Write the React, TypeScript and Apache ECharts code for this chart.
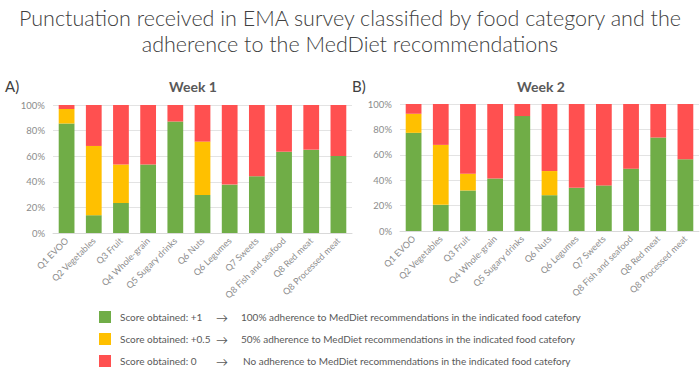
import React, { useEffect, useRef } from "react";
import * as echarts from "echarts";

const categories = [
  "Q1 EVOO", "Q2 Vegetables", "Q3 Fruit", "Q4 Whole-grain", "Q5 Sugary drinks",
  "Q6 Nuts", "Q6 Legumes", "Q7 Sweets", "Q8 Fish and seafood", "Q8 Red meat", "Q8 Processed meat",
];
const week1Full = [85.6, 13.9, 23.4, 53.5, 87.1, 29.7, 37.8, 44.4, 63.5, 65.1, 60.1];
const week1Half = [11.3, 54.1, 30.1, 0, 0, 41.7, 0, 0, 0, 0, 0];
const week1None = [3.1, 32.0, 46.5, 46.5, 12.9, 28.6, 62.2, 55.6, 36.5, 34.9, 39.9];
const week2Full = [77.3, 20.6, 31.9, 41.4, 90.5, 28.2, 34.0, 35.9, 49.1, 73.6, 56.5];
const week2Half = [15.0, 47.2, 13.2, 0, 0, 19.0, 0, 0, 0, 0, 0];
const week2None = [7.7, 32.2, 54.9, 58.6, 9.5, 52.8, 66.0, 64.1, 50.9, 26.4, 43.5];
const yTicks = ["0%", "20%", "40%", "60%", "80%", "100%"];
const seriesNames = ["Score obtained: +1", "Score obtained: +0.5", "Score obtained: 0"];
const legendDescriptions = [
  "100% adherence to MedDiet recommendations in the indicated food catefory",
  "50% adherence to MedDiet recommendations in the indicated food catefory",
  "No adherence to MedDiet recommendations in the indicated food catefory",
];
const colors = ["#70AD47", "#FFC000", "#FF5050"];
const mainTitle = "Punctuation received in EMA survey classified by food category and the\nadherence to the MedDiet recommendations";

export default function App() {
  const ref = useRef<HTMLDivElement>(null);
  useEffect(() => {
    if (!ref.current) return;
    const chart = echarts.init(ref.current, null, { renderer: "svg" });
    const font = "Lato, 'Open Sans', sans-serif";
    const xAxisCommon = (gi: number) => ({
      type: "category" as const,
      gridIndex: gi,
      data: categories,
      axisTick: { show: false },
      axisLine: { lineStyle: { color: "#D9D9D9" } },
      axisLabel: { rotate: 45, fontSize: 9, color: "#8C8C8C", fontFamily: font, margin: 6, interval: 0 },
    });
    const yAxisCommon = (gi: number) => ({
      type: "value" as const,
      gridIndex: gi,
      min: 0,
      max: 100,
      interval: 20,
      axisLine: { show: false },
      axisTick: { show: false },
      splitLine: { lineStyle: { color: "#E3E3E3" } },
      axisLabel: {
        fontSize: 9.5,
        color: "#8C8C8C",
        fontFamily: font,
        margin: 8,
        formatter: (v: number) => yTicks[Math.round(v / 20)],
      },
    });
    const mk = (gi: number, data: number[][]) =>
      data.map((d, i) => ({
        name: seriesNames[i],
        type: "bar" as const,
        stack: "w" + gi,
        xAxisIndex: gi,
        yAxisIndex: gi,
        data: d,
        barCategoryGap: "42%",
        itemStyle: { color: colors[i] },
      }));
    const legendItems: any[] = [];
    seriesNames.forEach((n, i) => {
      const y = 311 + i * 22;
      legendItems.push({ type: "rect", shape: { x: 99, y, width: 12, height: 12 }, style: { fill: colors[i] } });
      legendItems.push({ type: "text", x: 120, y: y + 6, style: { text: n, fontSize: 10, fill: "#595959", fontFamily: font, verticalAlign: "middle" } });
      legendItems.push({ type: "text", x: 216, y: y + 6, style: { text: "→", fontSize: 12, fill: "#595959", fontFamily: font, verticalAlign: "middle" } });
      legendItems.push({ type: "text", x: i === 2 ? 243 : 241, y: y + 6, style: { text: legendDescriptions[i], fontSize: 10, fill: "#595959", fontFamily: font, verticalAlign: "middle" } });
    });
    chart.setOption({
      animation: false,
      title: [
        { text: mainTitle, left: "center", top: 0, textStyle: { fontSize: 21.5, fontWeight: 300, color: "#404040", fontFamily: font, lineHeight: 26 } },
        { text: "Week 1", left: 188, textAlign: "center", top: 74, textStyle: { fontSize: 14, fontWeight: "bold", color: "#595959", fontFamily: font } },
        { text: "Week 2", left: 536, textAlign: "center", top: 74, textStyle: { fontSize: 14, fontWeight: "bold", color: "#595959", fontFamily: font } },
        { text: "A)", left: 0, top: 73, textStyle: { fontSize: 15, fontWeight: "normal", color: "#404040", fontFamily: font } },
        { text: "B)", left: 347, top: 73, textStyle: { fontSize: 15, fontWeight: "normal", color: "#404040", fontFamily: font } },
      ],
      grid: [
        { left: 53, right: 348, top: 105, bottom: 136 },
        { left: 400, right: 1, top: 104, bottom: 138 },
      ],
      xAxis: [xAxisCommon(0), xAxisCommon(1)],
      yAxis: [yAxisCommon(0), yAxisCommon(1)],
      series: [
        ...mk(0, [week1Full, week1Half, week1None]),
        ...mk(1, [week2Full, week2Half, week2None]),
      ],
      graphic: legendItems,
    });
    return () => chart.dispose();
  }, []);
  return <div ref={ref} style={{ width: 700, height: 369, position: "absolute", left: 0, top: 0 }} />;
}
